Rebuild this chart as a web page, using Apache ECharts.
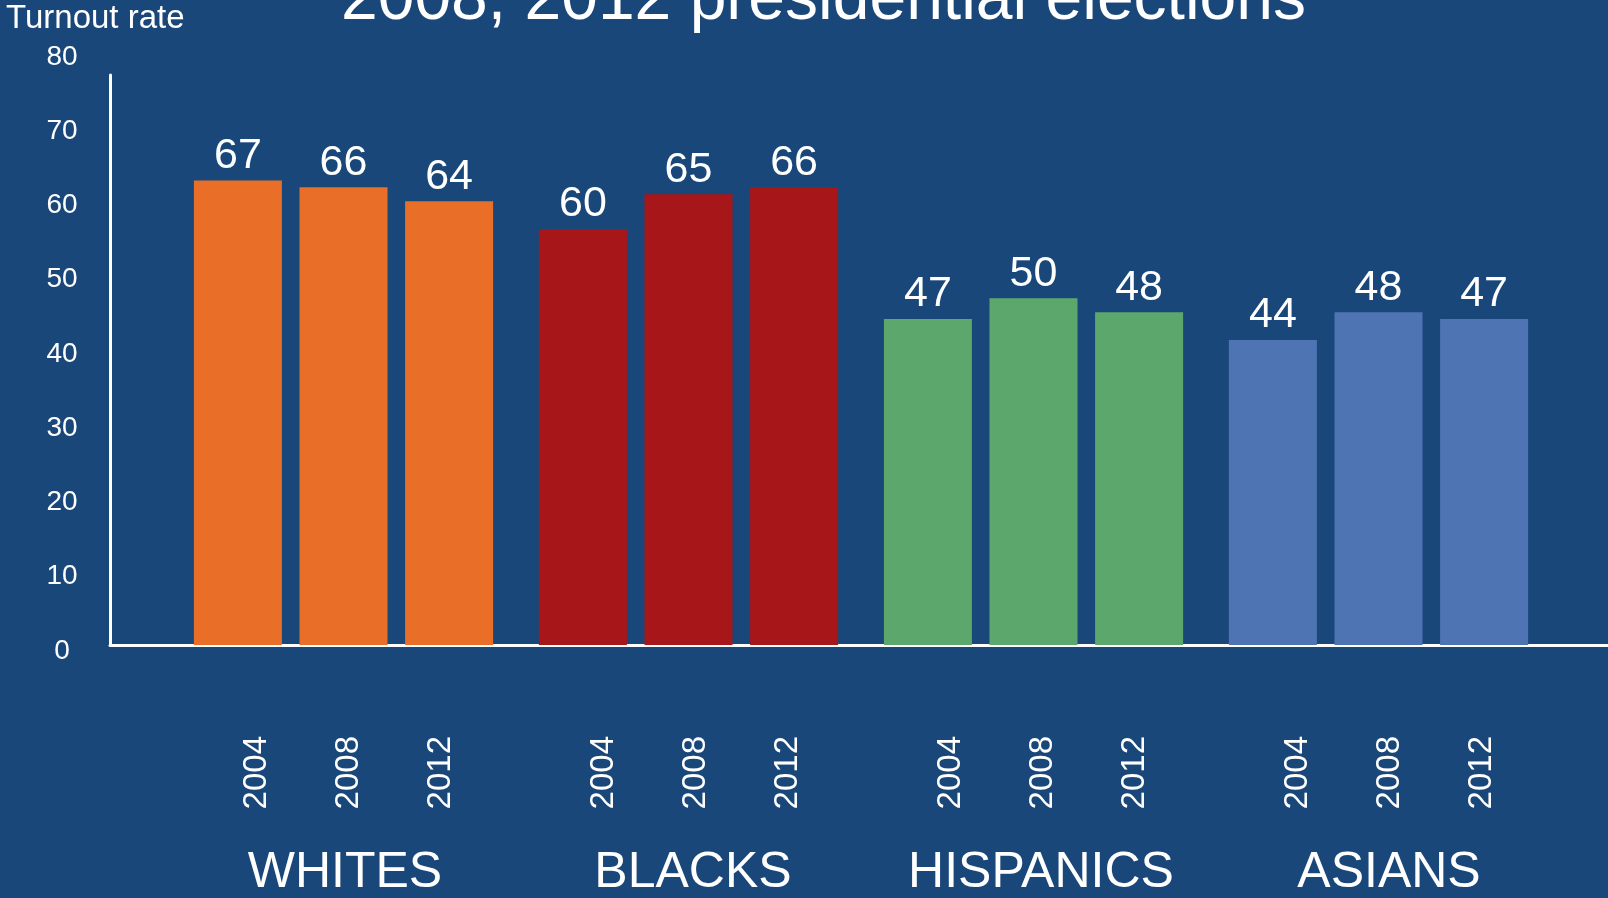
<!DOCTYPE html>
<html>
<head>
<meta charset="utf-8">
<title>Turnout rate by group, 2004–2012 presidential elections</title>
<script src="https://cdn.jsdelivr.net/npm/echarts@6/dist/echarts.min.js"></script>
<style>
  html, body { margin: 0; padding: 0; background: #1a477a; }
  #chart { width: 1608px; height: 898px; }
</style>
</head>
<body>
<div id="chart"></div>
<script>
// Turnout (%) by group and election year
const groups = ['WHITES', 'BLACKS', 'HISPANICS', 'ASIANS'];
const years = ['2004', '2008', '2012'];
const turnout2004 = [67, 60, 47, 44];
const turnout2008 = [66, 65, 50, 48];
const turnout2012 = [64, 66, 48, 47];
const yTickMin = 0, yTickMax = 80, yTickStep = 10;

const groupColors = ['#e96e27', '#a71619', '#5ca86c', '#4f74b3'];
const FONT = '"Liberation Sans", Arial, Helvetica, sans-serif';
const WHITE = '#ffffff';

const seriesValues = [turnout2004, turnout2008, turnout2012];

const chart = echarts.init(document.getElementById('chart'), null, { renderer: 'canvas' });

const hiddenAxisParts = {
  axisLine: { show: false }, axisTick: { show: false }, splitLine: { show: false }
};

chart.setOption({
  backgroundColor: '#1a477a',
  animation: false,
  textStyle: { fontFamily: FONT },
  title: [
    {
      text: '2008, 2012 presidential elections',
      left: 336, top: -37,
      textStyle: { color: WHITE, fontSize: 66, fontWeight: 'normal', fontFamily: FONT, lineHeight: 66 }
    },
    {
      text: 'Turnout rate',
      left: 1, top: -3,
      textStyle: { color: WHITE, fontSize: 33, fontWeight: 'normal', fontFamily: FONT, lineHeight: 33 }
    }
  ],
  grid: [
    // bars
    { left: 171, right: 57, top: 75, bottom: 253 },
    // y tick labels
    { left: 110, right: 0, top: 57, bottom: 247 },
    // axis frame lines
    { left: 110, right: 0, top: 75, bottom: 253 },
    // group names under the axis
    { left: 171, right: 45, top: 75, bottom: 253 },
    // year labels under the axis
    { left: 176, right: 45, top: 75, bottom: 253 }
  ],
  xAxis: [
    { gridIndex: 0, type: 'category', data: groups, show: false },
    { gridIndex: 1, type: 'category', data: groups, show: false },
    {
      gridIndex: 2, type: 'value', min: 0, max: 1,
      axisLine: { show: true, lineStyle: { color: WHITE, width: 3 } },
      axisTick: { show: false }, axisLabel: { show: false }, splitLine: { show: false }
    },
    {
      gridIndex: 3, type: 'category', data: groups, position: 'bottom',
      ...hiddenAxisParts,
      axisLabel: { color: WHITE, fontSize: 50, fontFamily: FONT, margin: 213, interval: 0 }
    },
    {
      gridIndex: 4, type: 'category', data: groups, position: 'bottom',
      ...hiddenAxisParts,
      axisLabel: {
        color: WHITE, fontSize: 33, fontFamily: FONT, rotate: 90, lineHeight: 92,
        margin: 91, interval: 0,
        formatter: () => years.join('\n')
      }
    }
  ],
  yAxis: [
    { gridIndex: 0, type: 'value', min: 0, max: 82.2, show: false },
    {
      gridIndex: 1, type: 'value', min: yTickMin, max: yTickMax, interval: yTickStep,
      ...hiddenAxisParts,
      axisLabel: { color: WHITE, fontSize: 28, fontFamily: FONT, align: 'center', margin: 48 }
    },
    {
      gridIndex: 2, type: 'value', min: 0, max: 1,
      axisLine: { show: true, lineStyle: { color: WHITE, width: 3 } },
      axisTick: { show: false }, axisLabel: { show: false }, splitLine: { show: false }
    },
    { gridIndex: 3, type: 'value', min: 0, max: 1, show: false },
    { gridIndex: 4, type: 'value', min: 0, max: 1, show: false }
  ],
  series: years.map((yr, i) => ({
    name: yr,
    type: 'bar',
    xAxisIndex: 0,
    yAxisIndex: 0,
    barWidth: 88,
    barGap: '20%',
    data: seriesValues[i],
    itemStyle: { color: (p) => groupColors[p.dataIndex] },
    label: {
      show: true, position: 'top', distance: 3,
      color: WHITE, fontSize: 43, fontFamily: FONT
    }
  }))
});
</script>
</body>
</html>
